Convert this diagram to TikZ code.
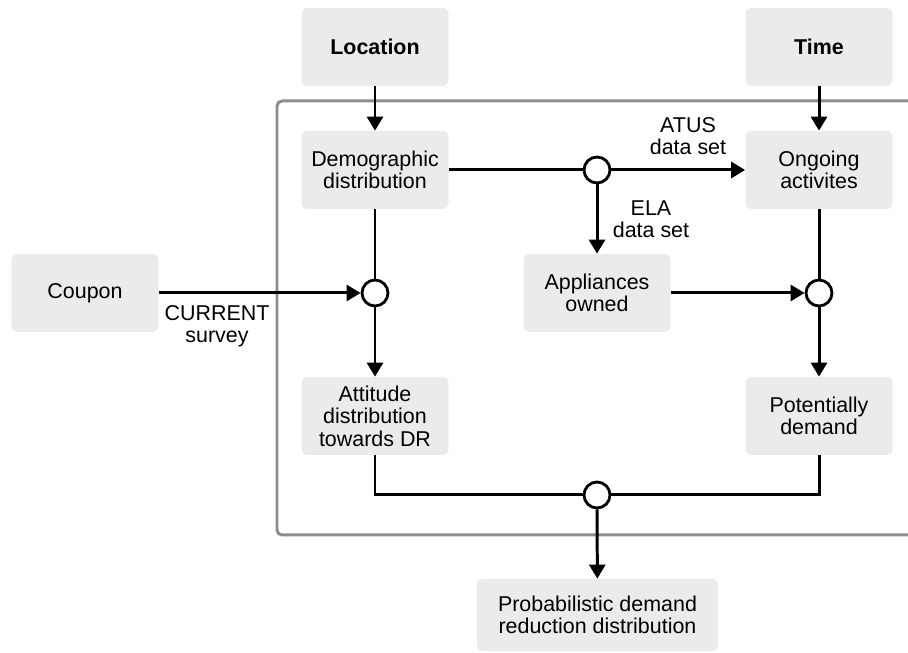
\documentclass[tikz,border=0pt]{standalone}
\usepackage{fontspec}
\setmainfont{Liberation Sans}
\usetikzlibrary{arrows.meta}
\definecolor{boxgray}{HTML}{EBEBEB}
\definecolor{framegray}{HTML}{8C8C8C}

\begin{document}
\begin{tikzpicture}[
    box/.style={rectangle, rounded corners=0.12cm, fill=boxgray, minimum width=2.94cm,
        minimum height=1.56cm, align=center, font=\fontsize{12.2}{12.8}\selectfont},
    junction/.style={circle, draw, line width=1.6pt, fill=white, minimum size=0.52cm, inner sep=0pt},
    link/.style={line width=1.7pt},
    flow/.style={link, -{Triangle[length=0.28cm,width=0.32cm]}},
    note/.style={align=center, font=\fontsize{12.2}{12.8}\selectfont}
]
\clip (0,0) rectangle (18.16,13.06);

% Frame
\draw[framegray, line width=1.7pt, rounded corners=0.1cm] (18.6,11.04) -| (5.54,2.36) -- (18.6,2.36);

% Boxes
\node[box] (loc) at (7.5,12.12) {\textbf{Location}};
\node[box] (time) at (16.38,12.12) {\textbf{Time}};
\node[box] (demo) at (7.5,9.66) {Demographic\\distribution};
\node[box] (ongoing) at (16.38,9.66) {Ongoing\\activites};
\node[box] (coupon) at (1.7,7.2) {Coupon};
\node[box] (appl) at (11.94,7.2) {Appliances\\owned};
\node[box] (attitude) at (7.5,4.74) {Attitude\\distribution\\towards DR};
\node[box] (potential) at (16.38,4.74) {Potentially\\demand};
\node[box, minimum width=4.82cm, minimum height=1.44cm] (prob) at (11.95,0.76) {Probabilistic demand\\reduction distribution};

% Junctions
\node[junction] (j1) at (11.94,9.66) {};
\node[junction] (j2) at (7.5,7.2) {};
\node[junction] (j3) at (16.38,7.2) {};
\node[junction] (j4) at (11.94,3.16) {};

% Labels
\node[note] (atus) at (13.76,10.34) {ATUS\\data set};
\node[note] (ela) at (13.02,8.68) {ELA\\data set};
\node[note] (current) at (4.34,6.54) {CURRENT\\survey};

% Arrows
\draw[flow] (loc) -- (demo);
\draw[flow] (time) -- (ongoing);
\draw[link] (demo) -- (j1);
\draw[flow] (j1) -- (ongoing);
\draw[flow] (j1) -- (appl);
\draw[link] (demo) -- (j2);
\draw[flow] (coupon) -- (j2);
\draw[flow] (j2) -- (attitude);
\draw[link] (ongoing) -- (j3);
\draw[flow] (appl) -- (j3);
\draw[flow] (j3) -- (potential);
\draw[link] (attitude) |- (j4);
\draw[link] (potential) |- (j4);
\draw[flow] (j4) -- (prob);
\end{tikzpicture}
\end{document}
